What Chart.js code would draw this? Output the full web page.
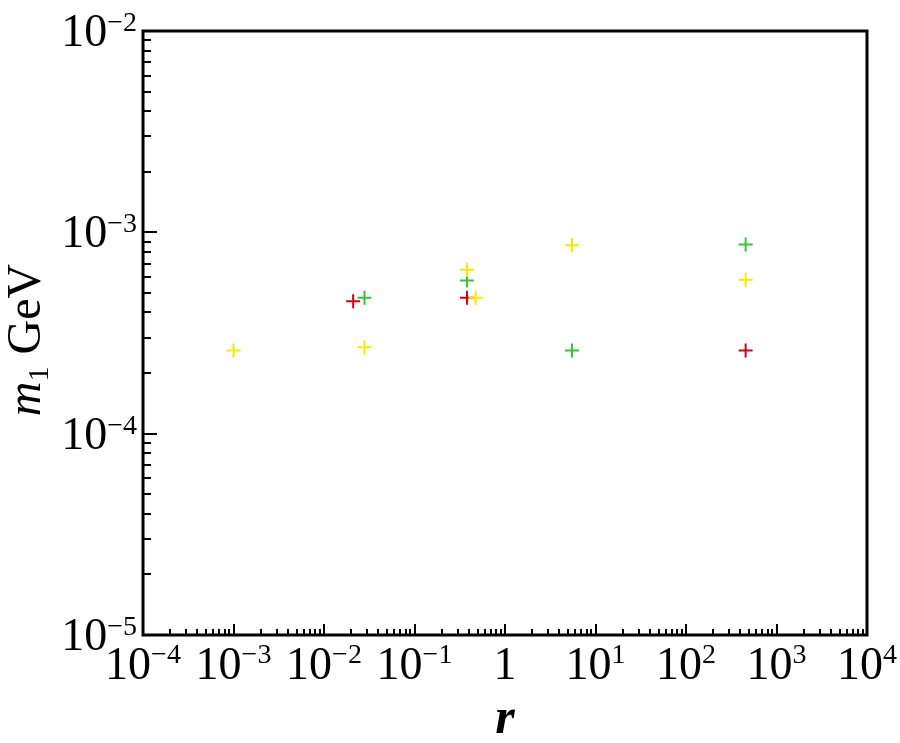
<!DOCTYPE html>
<html>
<head>
<meta charset="utf-8">
<script src="https://cdn.jsdelivr.net/npm/chart.js@4/dist/chart.umd.min.js"></script>
<style>
  html, body { margin: 0; padding: 0; background: #ffffff; }
  #wrap { width: 900px; height: 743px; position: relative; }
  .pre { font-family: 'Liberation Serif'; position: absolute; left: -9999px; }
</style>
</head>
<body>
<span class="pre">10 <i>m</i> GeV</span>
<div id="wrap"><canvas id="c"></canvas></div>
<script>
// ---- data ----
const redR   = [0.021, 0.38, 456];
const redM   = [4.55e-4, 4.73e-4, 2.59e-4];
const greenR = [0.028, 0.38, 5.5, 456];
const greenM = [4.73e-4, 5.77e-4, 2.59e-4, 8.7e-4];
const yellowR = [0.001, 0.028, 0.38, 0.474, 5.5, 456];
const yellowM = [2.59e-4, 2.69e-4, 6.52e-4, 4.73e-4, 8.62e-4, 5.82e-4];

// ---- axes ----
const xTickValues = [1e-4, 1e-3, 1e-2, 1e-1, 1, 1e1, 1e2, 1e3, 1e4];
const xTickLabels = [['10','\u22124'],['10','\u22123'],['10','\u22122'],['10','\u22121'],['1',''],['10','1'],['10','2'],['10','3'],['10','4']];
const yTickValues = [1e-5, 1e-4, 1e-3, 1e-2];
const yTickLabels = [['10','\u22125'],['10','\u22124'],['10','\u22123'],['10','\u22122']];
const xTitle = 'r';
const yTitleParts = ['m', '1', ' GeV'];

function pts(xs, ys) { return xs.map((x, i) => ({ x: x, y: ys[i] })); }

const SERIF = '"Liberation Serif", "Times New Roman", Times, serif';

const framePlugin = {
  id: 'framePlugin',
  afterDraw(chart) {
    const ctx = chart.ctx;
    const a = chart.chartArea;
    const xs = chart.scales.x, ys = chart.scales.y;
    ctx.save();
    ctx.strokeStyle = '#000';
    ctx.fillStyle = '#000';
    // ticks
    ctx.lineWidth = 2;
    ctx.beginPath();
    for (let i = 0; i < xTickValues.length; i++) {
      const v = xTickValues[i];
      const px = Math.round(xs.getPixelForValue(v));
      ctx.moveTo(px, a.bottom); ctx.lineTo(px, a.bottom - 11);
      if (i < xTickValues.length - 1) {
        for (let m = 2; m <= 9; m++) {
          const p = Math.round(xs.getPixelForValue(v * m));
          ctx.moveTo(p, a.bottom); ctx.lineTo(p, a.bottom - 6);
        }
      }
    }
    for (let i = 0; i < yTickValues.length; i++) {
      const v = yTickValues[i];
      const py = Math.round(ys.getPixelForValue(v));
      ctx.moveTo(a.left, py); ctx.lineTo(a.left + 14, py);
      if (i < yTickValues.length - 1) {
        for (let m = 2; m <= 9; m++) {
          const p = Math.round(ys.getPixelForValue(v * m));
          ctx.moveTo(a.left, p); ctx.lineTo(a.left + 8, p);
        }
      }
    }
    ctx.stroke();
    // frame
    ctx.lineWidth = 3;
    ctx.strokeRect(a.left, a.top, a.right - a.left, a.bottom - a.top);

    // tick labels
    const baseFont = '46px ' + SERIF;
    const supFont = '28px ' + SERIF;
    ctx.textBaseline = 'alphabetic';
    ctx.textAlign = 'left';
    for (let i = 0; i < xTickValues.length; i++) {
      const px = xs.getPixelForValue(xTickValues[i]);
      const [b, s] = xTickLabels[i];
      ctx.font = baseFont; const wb = ctx.measureText(b).width;
      ctx.font = supFont; const wsup = s ? ctx.measureText(s).width : 0;
      const x0 = px - (wb + wsup) / 2;
      ctx.font = baseFont; ctx.fillText(b, x0, a.bottom + 44);
      if (s) { ctx.font = supFont; ctx.fillText(s, x0 + wb, a.bottom + 28); }
    }
    for (let i = 0; i < yTickValues.length; i++) {
      const py = ys.getPixelForValue(yTickValues[i]);
      const [b, s] = yTickLabels[i];
      ctx.font = baseFont; const wb = ctx.measureText(b).width;
      ctx.font = supFont; const wsup = ctx.measureText(s).width;
      const x1 = a.left - 6;
      const x0 = x1 - wsup - wb;
      ctx.font = baseFont; ctx.fillText(b, x0, py + 15);
      ctx.font = supFont; ctx.fillText(s, x0 + wb, py);
    }

    // x title
    ctx.font = 'italic bold 50px ' + SERIF;
    ctx.textAlign = 'center';
    ctx.fillText(xTitle, (a.left + a.right) / 2, 733);

    // y title (rotated)
    ctx.save();
    ctx.translate(40, 340);
    ctx.rotate(-Math.PI / 2);
    ctx.textAlign = 'left';
    const fM = 'italic 48px ' + SERIF, fSub = '30px ' + SERIF, fG = '48px ' + SERIF;
    ctx.font = fM; const w1 = ctx.measureText(yTitleParts[0]).width;
    ctx.font = fSub; const w2 = ctx.measureText(yTitleParts[1]).width;
    ctx.font = fG; const w3 = ctx.measureText(yTitleParts[2]).width;
    let x = -(w1 + w2 + w3) / 2;
    ctx.font = fM; ctx.fillText(yTitleParts[0], x, 0); x += w1;
    ctx.font = fSub; ctx.fillText(yTitleParts[1], x, 8); x += w2;
    ctx.font = fG; ctx.fillText(yTitleParts[2], x, 0);
    ctx.restore();

    ctx.restore();
  }
};

function ds(label, xs, ys, color) {
  return {
    label: label,
    data: pts(xs, ys),
    pointStyle: 'cross',
    pointRadius: 7,
    pointHoverRadius: 7,
    borderWidth: 2,
    borderColor: color,
    backgroundColor: color,
    showLine: false
  };
}

function build() {
  new Chart(document.getElementById('c'), {
    type: 'scatter',
    data: {
      datasets: [
        ds('yellow', yellowR, yellowM, 'rgb(245,235,0)'),
        ds('green', greenR, greenM, 'rgb(55,195,55)'),
        ds('red', redR, redM, 'rgb(210,0,20)')
      ]
    },
    options: {
      responsive: true,
      maintainAspectRatio: false,
      animation: false,
      layout: { padding: { left: 143, right: 33, top: 31, bottom: 108 } },
      plugins: { legend: { display: false }, tooltip: { enabled: false } },
      scales: {
        x: { type: 'logarithmic', min: 1e-4, max: 1e4, display: false },
        y: { type: 'logarithmic', min: 1e-5, max: 1e-2, display: false }
      }
    },
    plugins: [framePlugin]
  });
}

Promise.all([
  document.fonts.load('46px "Liberation Serif"'),
  document.fonts.load('italic 48px "Liberation Serif"'),
  document.fonts.load('italic bold 50px "Liberation Serif"')
]).then(build, build);
</script>
</body>
</html>
